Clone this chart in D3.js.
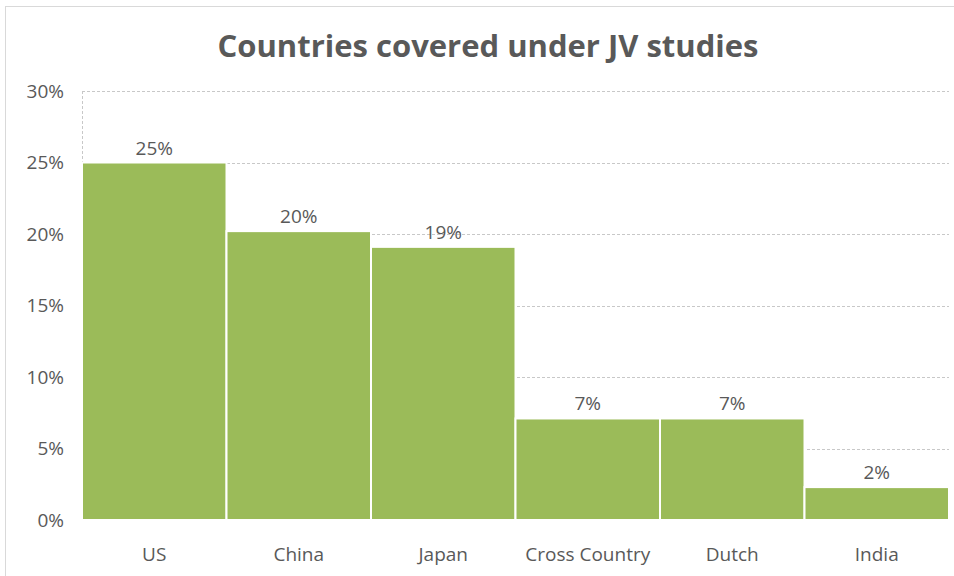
<!DOCTYPE html>
<html>
<head>
<meta charset="utf-8">
<script src="https://cdn.jsdelivr.net/npm/d3@7"></script>
<style>
  body { margin: 0; background: #fff; }
  text { font-family: "Open Sans", "Liberation Sans", sans-serif; fill: #595959; }
</style>
</head>
<body>
<svg id="chart" width="954" height="576"></svg>
<script>
// data
const countries = ['US', 'China', 'Japan', 'Cross Country', 'Dutch', 'India'];
const shares = [0.250, 0.202, 0.191, 0.071, 0.071, 0.023];
const yTicks = [0, 0.05, 0.10, 0.15, 0.20, 0.25, 0.30];

const svg = d3.select('#chart');
const width = +svg.attr('width'), height = +svg.attr('height');
const margin = {top: 91, right: 5, bottom: 56, left: 82};

// outer frame
svg.append('rect')
    .attr('x', 5.5).attr('y', 6.5)
    .attr('width', width + 10).attr('height', height + 10)
    .attr('fill', 'none').attr('stroke', '#d9d9d9');

svg.append('text')
    .attr('x', 488).attr('y', 57)
    .attr('text-anchor', 'middle')
    .style('font-size', '31px').style('font-weight', 'bold')
    .text('Countries covered under JV studies');

const x = d3.scaleBand()
    .domain(countries)
    .range([margin.left, width - margin.right])
    .padding(0);

const y = d3.scaleLinear()
    .domain([0, 0.30])
    .range([height - margin.bottom, margin.top]);

const fmt = d3.format('.0%');

// gridlines
svg.append('g')
    .selectAll('line')
    .data(yTicks)
    .enter().append('line')
    .attr('x1', margin.left).attr('x2', width - margin.right)
    .attr('y1', d => Math.round(y(d)) + 0.5).attr('y2', d => Math.round(y(d)) + 0.5)
    .attr('stroke', '#c8c8c8').attr('stroke-dasharray', '3,2');

// left axis line
svg.append('line')
    .attr('x1', margin.left + 0.5).attr('x2', margin.left + 0.5)
    .attr('y1', y(0.30)).attr('y2', y(0))
    .attr('stroke', '#c8c8c8').attr('stroke-dasharray', '3,2');

// y axis labels
const yAxis = svg.append('g')
    .attr('transform', `translate(${margin.left - 18},0)`)
    .call(d3.axisLeft(y).tickValues(yTicks).tickFormat(fmt).tickSize(0).tickPadding(0));
yAxis.select('.domain').remove();
yAxis.selectAll('text').style('font-size', '19px').attr('fill', '#595959');

// bars
svg.append('g')
    .selectAll('rect')
    .data(shares)
    .enter().append('rect')
    .attr('x', (d, i) => x(countries[i]))
    .attr('y', d => y(d))
    .attr('width', x.bandwidth())
    .attr('height', d => y(0) - y(d))
    .attr('fill', '#9bbb59')
    .attr('stroke', '#fff').attr('stroke-width', 2);

// value labels
svg.append('g')
    .selectAll('text')
    .data(shares)
    .enter().append('text')
    .attr('x', (d, i) => x(countries[i]) + x.bandwidth() / 2)
    .attr('y', d => y(d) - 8)
    .attr('text-anchor', 'middle')
    .style('font-size', '19px')
    .text(d => fmt(d));

// x axis labels
const xAxis = svg.append('g')
    .attr('transform', `translate(0,${height - margin.bottom})`)
    .call(d3.axisBottom(x).tickSize(0).tickPadding(0));
xAxis.select('.domain').remove();
xAxis.selectAll('text').style('font-size', '19px').attr('fill', '#595959')
    .attr('dy', null).attr('y', 41);
</script>
</body>
</html>
